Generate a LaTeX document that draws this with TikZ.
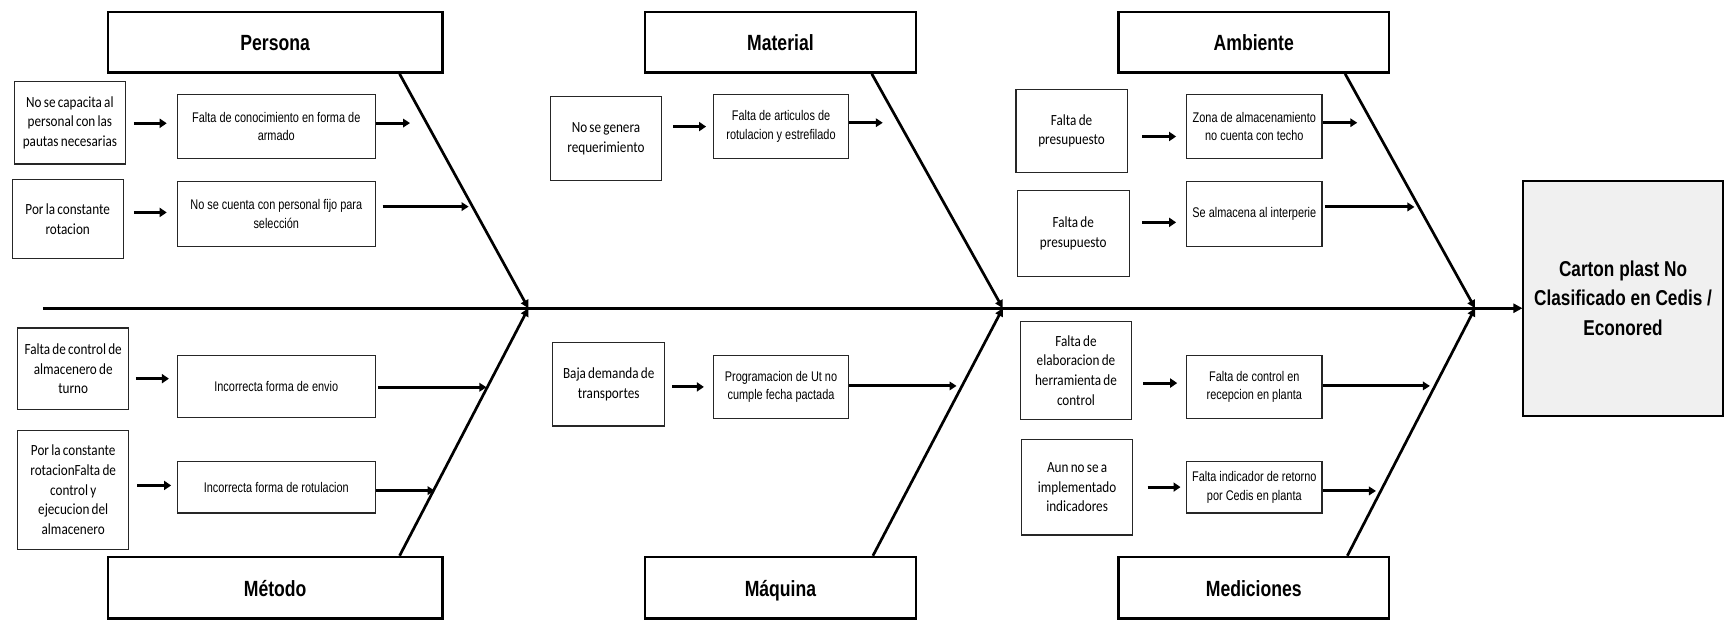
\documentclass[tikz,border=0pt]{standalone}
\usepackage{fontspec}
\setmainfont{Liberation Sans}
\newfontfamily\hdfont{Liberation Sans}[FakeStretch=0.8]
\newfontfamily\effont{Liberation Sans}[FakeStretch=0.78]
\newfontfamily\cafont{Carlito}[FakeStretch=0.85,WordSpace=0.75]
\usetikzlibrary{arrows.meta,calc}

\tikzset{
  hdr/.style={draw, line width=2.4pt, inner sep=0pt, align=center,
    text height=16.5pt, text depth=0pt,
    font=\hdfont\bfseries\fontsize{22}{26}\selectfont},
  cbox/.style={draw=black!85, line width=1.2pt, inner sep=0pt, align=center,
    font=\cafont\fontsize{15.5}{19.7}\selectfont},
  ebox/.style={draw=black!85, line width=1.2pt, inner sep=0pt, align=center,
    font=\effont\fontsize{14}{18.7}\selectfont},
  headbox/.style={draw, fill=black!6, line width=2pt, inner sep=0pt, align=center,
    font=\hdfont\bfseries\fontsize{21.5}{29.7}\selectfont},
  bone/.style={line width=2.7pt, -{Triangle[length=8pt,width=8pt]}},
  spine/.style={line width=3pt, -{Triangle[length=9pt,width=9pt]}},
  carrow/.style={line width=3pt, -{Triangle[length=7pt,width=9pt]}},
  barrow/.style={line width=2.9pt, -{Triangle[length=7pt,width=8.5pt]}},
}

% box between two corners: name, style, x1, y1, x2, y2, text
\newcommand\bx[7]{%
  \node[#2, minimum width={(#5-#3)*1.1008pt}, minimum height={(#6-#4)*1.1008pt}]
    (#1) at ({(#3+#5)/2},{(#4+#6)/2}) {#7};}

% cause -> sub-cause arrow: from, to, start gap, end gap, vertical offset
\newcommand\causelink[5]{%
  \draw[carrow] ($(#1.east |- #2.west)+(#3,#5)$) -- ($(#2.west)+(-#4,#5)$);}

\begin{document}
\begin{tikzpicture}[x=1.1008pt, y=-1.1008pt]
\useasboundingbox (0,0) rectangle (1568,564);
\fill[white] (0,0) rectangle (1568,564);

% category headers
\bx{persona}{hdr}{98}{11}{402}{66}{Persona}
\bx{material}{hdr}{586}{11}{832}{66}{Material}
\bx{ambiente}{hdr}{1016}{11}{1262}{66}{Ambiente}
\bx{metodo}{hdr}{98}{506}{402}{562}{Método}
\bx{maquina}{hdr}{586}{506}{832}{562}{Máquina}
\bx{mediciones}{hdr}{1016}{506}{1262}{562}{Mediciones}

% problem (head of the fish)
\bx{main}{headbox}{1384}{164}{1565}{378}{Carton plast No\\Clasificado en Cedis /\\Econored}

% Persona
\bx{c1}{cbox}{13}{74}{114}{149}{No se capacita al\\personal con las\\pautas necesarias}
\bx{e1}{ebox}{161}{86}{341}{144}{Falta de conocimiento en forma de\\armado}
\bx{c2}{cbox}{11}{163}{112}{235}{Por la constante\\rotacion}
\bx{e2}{ebox}{161}{165}{341}{224}{No se cuenta con personal fijo para\\selección}

% Método
\bx{c3}{cbox}{16}{298}{117}{372}{Falta de control de\\almacenero de\\turno}
\bx{e3}{ebox}{161}{323}{341}{379}{Incorrecta forma de envio}
\bx{c4}{cbox}{16}{391}{117}{499}{Por la constante\\rotacionFalta de\\control y\\ejecucion del\\almacenero}
\bx{e4}{ebox}{161}{419}{341}{466}{Incorrecta forma de rotulacion}

% Material
\bx{c5}{cbox}{500}{88}{601}{164}{No se genera\\requerimiento}
\bx{e5}{ebox}{648}{86}{771}{144}{Falta de articulos de\\rotulacion y estrefilado}

% Máquina
\bx{c6}{cbox}{502}{311}{604}{387}{Baja demanda de\\transportes}
\bx{e6}{ebox}{648}{323}{771}{380}{Programacion de Ut no\\cumple fecha pactada}

% Ambiente
\bx{c7}{cbox}{923}{81}{1024}{157}{Falta de\\presupuesto}
\bx{e7}{ebox}{1078}{86}{1201}{144}{Zona de almacenamiento\\no cuenta con techo}
\bx{c8}{cbox}{924}{173}{1026}{251}{Falta de\\presupuesto}
\bx{e8}{ebox}{1078}{165}{1201}{224}{Se almacena al interperie}

% Mediciones
\bx{c9}{cbox}{927}{292}{1028}{381}{Falta de\\elaboracion de\\herramienta de\\control}
\bx{e9}{ebox}{1078}{323}{1201}{380}{Falta de control en\\recepcion en planta}
\bx{c10}{cbox}{928}{399}{1029}{486}{Aun no se a\\implementado\\indicadores}
\bx{e10}{ebox}{1078}{419}{1201}{466}{Falta indicador de retorno\\por Cedis en planta}

% spine and bones
\coordinate (s0) at (39,280);
\coordinate (j1) at (480,280);
\coordinate (j2) at (911,280);
\coordinate (j3) at (1340,280);
\draw[spine] (s0) -- (s0 -| main.west);

\draw[bone] (persona.south -| 363,0)    -- (j1);
\draw[bone] (metodo.north -| 363,0)     -- (j1);
\draw[bone] (material.south -| 792,0)   -- (j2);
\draw[bone] (maquina.north -| 793,0)    -- (j2);
\draw[bone] (ambiente.south -| 1222,0)  -- (j3);
\draw[bone] (mediciones.north -| 1224,0) -- (j3);

% cause -> sub-cause arrows
\causelink{c1}{e1}{7}{9}{-3}
\causelink{c2}{e2}{9}{9}{-1.5}
\causelink{c3}{e3}{6}{7}{-7}
\causelink{c4}{e4}{7}{5}{-1.5}
\causelink{c5}{e5}{10}{6}{0}
\causelink{c6}{e6}{6}{8}{0}
\causelink{c7}{e7}{13}{9}{9}
\causelink{c8}{e8}{11}{9}{7.5}
\causelink{c9}{e9}{10}{8}{-3.5}
\causelink{c10}{e10}{13}{5}{0}

% sub-cause -> bone arrows
\coordinate (t1)  at (372.5,111.8);
\coordinate (t2)  at (425.7,187.7);
\coordinate (t3)  at (441.9,351.8);
\coordinate (t4)  at (394.8,445.7);
\coordinate (t5)  at (802,111.5);
\coordinate (t6)  at (869,350.6);
\coordinate (t7)  at (1233,111.5);
\coordinate (t8)  at (1285,188);
\coordinate (t9)  at (1299,350.6);
\coordinate (t10) at (1250,446);
\draw[barrow] (e1.east |- t1) -- (t1);
\draw[barrow] ($(e2.east |- t2)+(6,0)$) -- (t2);
\draw[barrow] ($(e3.east |- t3)+(2,0)$) -- (t3);
\draw[barrow] (e4.east |- t4) -- (t4);
\draw[barrow] (e5.east |- t5) -- (t5);
\draw[barrow] (e6.east |- t6) -- (t6);
\draw[barrow] (e7.east |- t7) -- (t7);
\draw[barrow] ($(e8.east |- t8)+(2,0)$) -- (t8);
\draw[barrow] (e9.east |- t9) -- (t9);
\draw[barrow] (e10.east |- t10) -- (t10);
\end{tikzpicture}
\end{document}
